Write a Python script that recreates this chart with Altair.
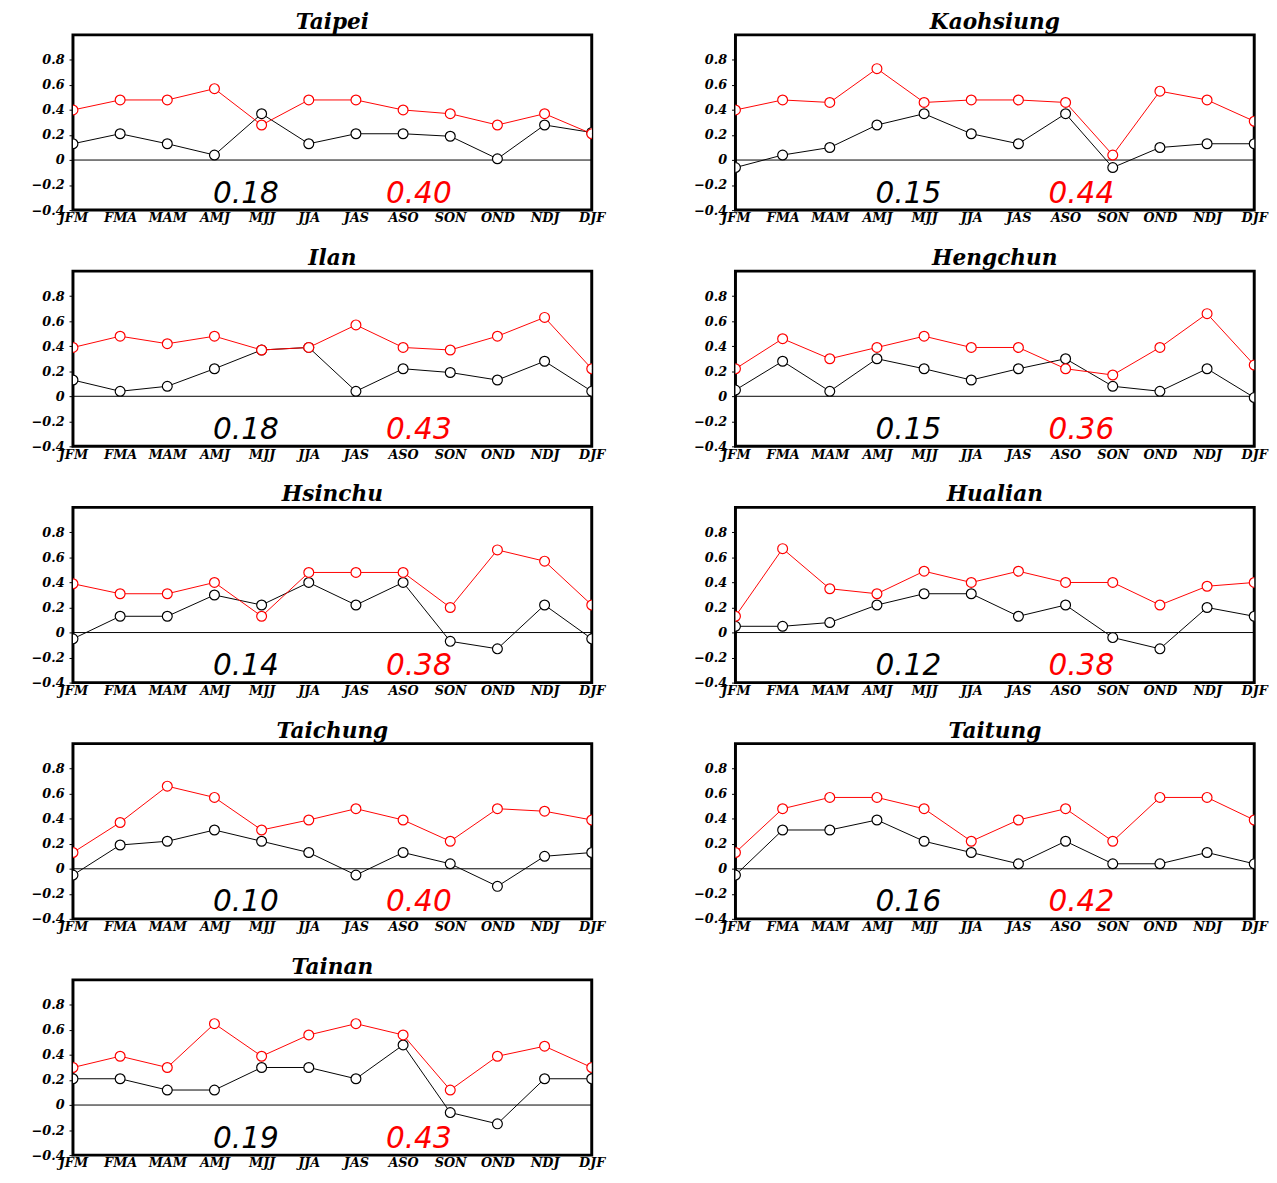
import altair as alt
import pandas as pd

SEASONS = ["JFM", "FMA", "MAM", "AMJ", "MJJ", "JJA", "JAS", "ASO", "SON", "OND", "NDJ", "DJF"]
STATIONS = ["Taipei", "Kaohsiung", "Ilan", "Hengchun", "Hsinchu", "Hualian", "Taichung", "Taitung", "Tainan"]
Y_TICKS = [-0.4, -0.2, 0, 0.2, 0.4, 0.6, 0.8]

# black series (per station)
taipei_black = [0.13, 0.21, 0.13, 0.04, 0.37, 0.13, 0.21, 0.21, 0.19, 0.01, 0.28, 0.22]
kaohsiung_black = [-0.06, 0.04, 0.10, 0.28, 0.37, 0.21, 0.13, 0.37, -0.06, 0.10, 0.13, 0.13]
ilan_black = [0.13, 0.04, 0.08, 0.22, 0.37, 0.39, 0.04, 0.22, 0.19, 0.13, 0.28, 0.04]
hengchun_black = [0.05, 0.28, 0.04, 0.30, 0.22, 0.13, 0.22, 0.30, 0.08, 0.04, 0.22, -0.01]
hsinchu_black = [-0.05, 0.13, 0.13, 0.30, 0.22, 0.40, 0.22, 0.40, -0.07, -0.13, 0.22, -0.05]
hualian_black = [0.05, 0.05, 0.08, 0.22, 0.31, 0.31, 0.13, 0.22, -0.04, -0.13, 0.20, 0.13]
taichung_black = [-0.05, 0.19, 0.22, 0.31, 0.22, 0.13, -0.05, 0.13, 0.04, -0.14, 0.10, 0.13]
taitung_black = [-0.05, 0.31, 0.31, 0.39, 0.22, 0.13, 0.04, 0.22, 0.04, 0.04, 0.13, 0.04]
tainan_black = [0.21, 0.21, 0.12, 0.12, 0.30, 0.30, 0.21, 0.48, -0.06, -0.15, 0.21, 0.21]

# red series (per station)
taipei_red = [0.40, 0.48, 0.48, 0.57, 0.28, 0.48, 0.48, 0.40, 0.37, 0.28, 0.37, 0.21]
kaohsiung_red = [0.40, 0.48, 0.46, 0.73, 0.46, 0.48, 0.48, 0.46, 0.04, 0.55, 0.48, 0.31]
ilan_red = [0.39, 0.48, 0.42, 0.48, 0.37, 0.39, 0.57, 0.39, 0.37, 0.48, 0.63, 0.22]
hengchun_red = [0.22, 0.46, 0.30, 0.39, 0.48, 0.39, 0.39, 0.22, 0.17, 0.39, 0.66, 0.25]
hsinchu_red = [0.39, 0.31, 0.31, 0.40, 0.13, 0.48, 0.48, 0.48, 0.20, 0.66, 0.57, 0.22]
hualian_red = [0.13, 0.67, 0.35, 0.31, 0.49, 0.40, 0.49, 0.40, 0.40, 0.22, 0.37, 0.40]
taichung_red = [0.13, 0.37, 0.66, 0.57, 0.31, 0.39, 0.48, 0.39, 0.22, 0.48, 0.46, 0.39]
taitung_red = [0.13, 0.48, 0.57, 0.57, 0.48, 0.22, 0.39, 0.48, 0.22, 0.57, 0.57, 0.39]
tainan_red = [0.30, 0.39, 0.30, 0.65, 0.39, 0.56, 0.65, 0.56, 0.12, 0.39, 0.47, 0.30]

# averages printed in each panel
mean_black = ["0.18", "0.15", "0.18", "0.15", "0.14", "0.12", "0.10", "0.16", "0.19"]
mean_red = ["0.40", "0.44", "0.43", "0.36", "0.38", "0.38", "0.40", "0.42", "0.43"]

BLACK = [taipei_black, kaohsiung_black, ilan_black, hengchun_black, hsinchu_black,
         hualian_black, taichung_black, taitung_black, tainan_black]
RED = [taipei_red, kaohsiung_red, ilan_red, hengchun_red, hsinchu_red,
       hualian_red, taichung_red, taitung_red, tainan_red]

PANEL_W = 527
PANEL_H = 178
SERIF = "DejaVu Serif"

season_expr = "[" + ",".join("'%s'" % s for s in SEASONS) + "][datum.value]"

x_scale = alt.Scale(domain=[0, len(SEASONS) - 1], nice=False, zero=False)
y_scale = alt.Scale(domain=[-0.4, 1.0], nice=False, zero=False)

x_axis = alt.Axis(values=list(range(len(SEASONS))), labelExpr=season_expr, title=None,
                  ticks=False, grid=False, domain=False, labelFont=SERIF, labelFontSize=13,
                  labelFontWeight="bold", labelFontStyle="italic", labelColor="black",
                  labelPadding=2, labelFlush=False, labelOverlap=False)
y_axis = alt.Axis(values=Y_TICKS, labelExpr="datum.value == 0 ? '0' : format(datum.value, '.1f')",
                  title=None, grid=False, domain=False, ticks=True, tickSize=4, tickColor="black",
                  labelFont=SERIF, labelFontSize=13, labelFontWeight="bold",
                  labelFontStyle="italic", labelColor="black", labelPadding=5)


def panel(k):
    name = STATIONS[k]
    df = pd.DataFrame({"idx": list(range(len(SEASONS))), "season": SEASONS,
                       "black": BLACK[k], "red": RED[k]})
    base = alt.Chart(df)
    x = alt.X("idx:Q", scale=x_scale, axis=x_axis)
    zero = alt.Chart(pd.DataFrame({"v": [0.0]})).mark_rule(color="black", strokeWidth=1).encode(
        y=alt.Y("v:Q", scale=y_scale, axis=y_axis))
    layers = [zero]
    for col, colour in (("black", "black"), ("red", "#ff0000")):
        layers.append(base.mark_line(color=colour, strokeWidth=1, clip=True).encode(
            x=x, y=alt.Y(col + ":Q", scale=y_scale, axis=y_axis)))
        layers.append(base.mark_point(shape="circle", filled=True, fill="white", stroke=colour,
                                      strokeWidth=1.2, size=100, opacity=1, clip=True).encode(
            x=x, y=alt.Y(col + ":Q", scale=y_scale, axis=y_axis)))
    n = len(SEASONS) - 1
    txt = pd.DataFrame({"x": [n / 3, 2 * n / 3], "y": [-0.27, -0.27],
                        "t": [mean_black[k], mean_red[k]], "c": ["black", "#ff0000"]})
    layers.append(alt.Chart(txt).mark_text(font="DejaVu Sans", fontSize=30, fontStyle="italic",
                                           baseline="middle", align="center").encode(
        x=alt.X("x:Q", scale=x_scale, axis=x_axis), y=alt.Y("y:Q", scale=y_scale, axis=y_axis),
        text="t:N", color=alt.Color("c:N", scale=None)))
    return alt.layer(*layers).properties(
        width=PANEL_W, height=PANEL_H,
        title=alt.TitleParams(name, font=SERIF, fontSize=22, fontWeight="bold",
                              fontStyle="italic", color="black", anchor="middle", offset=1))


rows = []
for r in range(0, len(STATIONS), 2):
    members = [panel(k) for k in range(r, min(r + 2, len(STATIONS)))]
    rows.append(alt.hconcat(*members, spacing=86))

chart = alt.vconcat(*rows, spacing=19).properties(
    padding={"left": 21, "top": -8, "right": 0, "bottom": 0},
    background="white",
).configure_view(stroke="black", strokeWidth=3)

chart.save("out.html", embed_options={"renderer": "svg", "actions": False})
